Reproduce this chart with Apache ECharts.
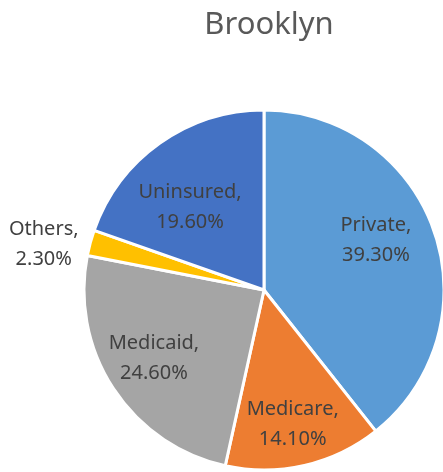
<!DOCTYPE html>
<html><head><meta charset="utf-8">
<script src="https://cdn.jsdelivr.net/npm/echarts@6/dist/echarts.min.js"></script>
<style>html,body{margin:0;padding:0;background:#fff}#c{width:443px;height:472px}</style>
</head><body><div id="c"></div>
<script>
const categories = ['Private', 'Medicare', 'Medicaid', 'Others', 'Uninsured'];
const values = [39.3, 14.1, 24.6, 2.3, 19.6];
const colors = ['#5B9BD5', '#ED7D31', '#A5A5A5', '#FFC000', '#4472C4'];
const title = 'Brooklyn';
// label nudges (style only)
const labelNudge = [[-9, -8], [0, 10], [-3, -2], [0, 0], [0, 22]];

const font = 'Noto Sans';
const fmt = p => p.name + ',\n' + p.value.toFixed(2) + '%';
const fmtRich = p => '{a|' + p.name + ',}\n{a|' + p.value.toFixed(2) + '%}';
const data = categories.map((n, i) => ({ name: n, value: values[i], itemStyle: { color: colors[i] } }));

const chart = echarts.init(document.getElementById('c'), null, { renderer: 'canvas' });
chart.setOption({
  animation: false,
  title: { text: title, left: 264, textAlign: 'center', top: 5, textStyle: { fontFamily: font, fontSize: 31, fontWeight: 'normal', color: '#595959' } },
  series: [
    {
      type: 'pie', center: [264, 290], radius: [0, 180], startAngle: 90, clockwise: true,
      itemStyle: { borderColor: '#fff', borderWidth: 3 },
      data: data.map(d => d.name === 'Others'
        ? Object.assign({}, d, { label: { show: true } })
        : Object.assign({}, d, { label: { show: false } })),
      label: { position: 'outside', formatter: fmtRich, fontFamily: font, fontSize: 20, lineHeight: 30, color: '#404040', overflow: 'none', edgeDistance: 0,
        rich: { a: { width: 74, align: 'center', fontFamily: font, fontSize: 20, lineHeight: 30, color: '#404040' } } },
      labelLine: { show: false, length: 6, length2: 2 },
      labelLayout: () => ({ dy: 3 }),
      emphasis: { disabled: true }
    },
    {
      type: 'pie', center: [264, 290], radius: [70, 180], startAngle: 90, clockwise: true, silent: true,
      itemStyle: { color: 'transparent', borderWidth: 0 },
      data: data.map(d => d.name === 'Others'
        ? { name: d.name, value: d.value, label: { show: false } }
        : { name: d.name, value: d.value }),
      label: { position: 'inside', formatter: fmt, fontFamily: font, fontSize: 20, lineHeight: 30, color: '#404040' },
      labelLine: { show: false },
      labelLayout: p => ({ dx: labelNudge[p.dataIndex][0], dy: labelNudge[p.dataIndex][1] }),
      emphasis: { disabled: true }
    }
  ]
});
</script></body></html>
